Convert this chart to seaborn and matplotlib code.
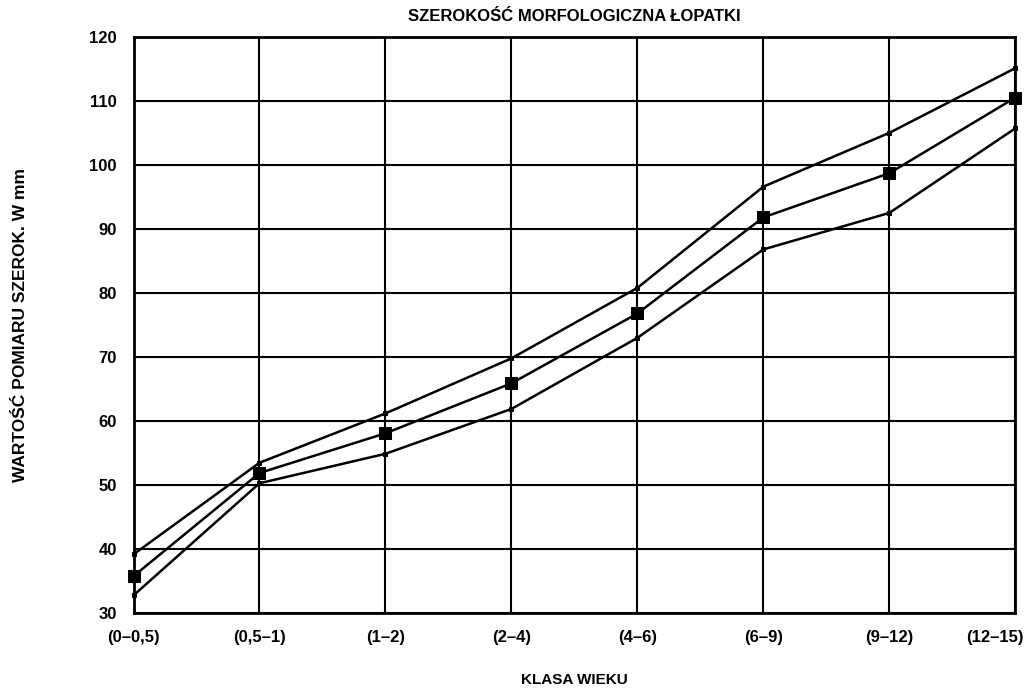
import matplotlib
matplotlib.use("Agg")
import matplotlib.pyplot as plt
import matplotlib.transforms as mtransforms
import seaborn as sns
import pandas as pd

# kategorie wieku i wartości
klasy = ["(0–0,5)", "(0,5–1)", "(1–2)", "(2–4)", "(4–6)", "(6–9)", "(9–12)", "(12–15)"]
gorna = [39.2, 53.5, 61.2, 69.8, 80.8, 96.6, 105.0, 115.1]
srednia = [35.8, 51.9, 58.1, 65.9, 76.8, 91.8, 98.7, 110.5]
dolna = [32.8, 50.3, 54.9, 61.9, 73.0, 86.8, 92.5, 105.7]

sns.set_style("white")
plt.rcParams['font.family'] = ['Liberation Sans', 'DejaVu Sans']
plt.rcParams['font.weight'] = 'bold'
plt.rcParams['text.color'] = 'black'
plt.rcParams['axes.labelcolor'] = 'black'

df = pd.DataFrame({"x": list(range(len(klasy))),
                   "gorna": gorna, "srednia": srednia, "dolna": dolna})

fig = plt.figure(figsize=(10.35, 6.93), dpi=100)
ax = fig.add_axes([0.129, 0.115, 0.852, 0.832])

# górna i dolna granica - małe znaczniki, średnia - duże kwadraty
for kol, ms in [("gorna", 3.5), ("srednia", 9), ("dolna", 3.5)]:
    sns.lineplot(data=df, x="x", y=kol, ax=ax, color="black", linewidth=1.8,
                 marker="s", markersize=ms, markeredgecolor="black", clip_on=False)

ax.set_xlim(0, len(klasy) - 1)
ax.set_ylim(30, 120)
ax.set_xticks(range(len(klasy)))
ax.set_xticklabels(klasy)
ax.set_yticks(range(30, 121, 10))
ax.grid(True, color="black", linewidth=1.5)
for s in ax.spines.values():
    s.set_color("black")
    s.set_linewidth(2)
ax.tick_params(axis="both", direction="out", length=5, width=1.5, colors="black",
               labelsize=12, pad=7)
for lbl in ax.get_xticklabels() + ax.get_yticklabels():
    lbl.set_fontweight("bold")

# ostatnia etykieta przesunięta w lewo, żeby zmieściła się w obrazku
ost = ax.get_xticklabels()[-1]
ost.set_transform(ost.get_transform() + mtransforms.ScaledTranslation(-20 / 100, 0, fig.dpi_scale_trans))

ax.set_title("SZEROKOŚĆ MORFOLOGICZNA ŁOPATKI", fontsize=12, fontweight="bold", pad=11)
ax.set_xlabel("KLASA WIEKU", fontsize=11, fontweight="bold", labelpad=20)
ax.set_ylabel("WARTOŚĆ POMIARU SZEROK. W mm", fontsize=12.5, fontweight="bold", labelpad=44)

fig.savefig("out.png", dpi=100)
